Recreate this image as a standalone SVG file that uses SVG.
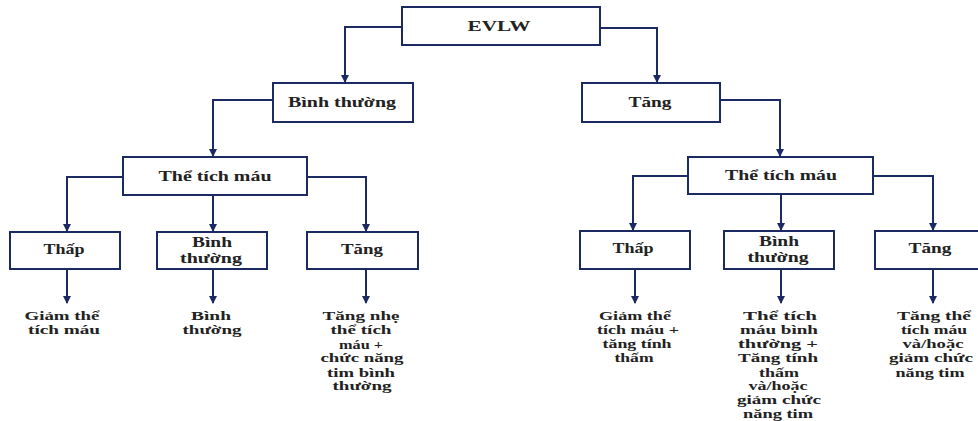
<svg xmlns="http://www.w3.org/2000/svg" width="978" height="421" viewBox="0 0 978 421">
<defs>
<marker id="ah" viewBox="0 0 8 8" refX="7" refY="4" markerWidth="4" markerHeight="4" orient="auto" markerUnits="strokeWidth">
<path d="M0,0 L8,4 L0,8 Z" fill="#1c2a63"/>
</marker>
<style>
.box{fill:#fff;stroke:#1c2a63;stroke-width:2}
.c{fill:none;stroke:#1c2a63;stroke-width:2;marker-end:url(#ah)}
text{font-family:"Liberation Serif","Times New Roman",serif;font-weight:bold;fill:#222;text-anchor:middle;font-size:14px}
.b{font-size:12.5px;font-weight:bold}
</style>
</defs>
<rect width="978" height="421" fill="#fff"/>
<g id="connectors">
<path class="c" d="M402,27 H345 V82"/>
<path class="c" d="M600,28 H657 V82"/>
<path class="c" d="M273,100 H213 V156"/>
<path class="c" d="M720,100 H780 V156"/>
<path class="c" d="M123,177 H67 V231"/>
<path class="c" d="M213,195 V231"/>
<path class="c" d="M307,177 H366 V231"/>
<path class="c" d="M688,176 H633 V230"/>
<path class="c" d="M781,194 V230"/>
<path class="c" d="M873,176 H933 V230"/>
<path class="c" d="M67,269 V303"/>
<path class="c" d="M213,269 V303"/>
<path class="c" d="M366,269 V303"/>
<path class="c" d="M635,269 V303"/>
<path class="c" d="M781,269 V303"/>
<path class="c" d="M933,269 V303"/>
</g>
<g id="n-evlw"><rect class="box" x="402" y="7" width="198" height="38"/><text x="499" y="31" textLength="63" lengthAdjust="spacingAndGlyphs">EVLW</text></g>
<g id="n-binhthuong"><rect class="box" x="273" y="83" width="140" height="39"/><text x="342" y="107" textLength="108" lengthAdjust="spacingAndGlyphs">Bình thường</text></g>
<g id="n-tang"><rect class="box" x="582" y="83" width="138" height="39"/><text x="650" y="107" textLength="43" lengthAdjust="spacingAndGlyphs">Tăng</text></g>
<g id="n-ttm-left"><rect class="box" x="123" y="157" width="184" height="38"/><text x="215" y="181" textLength="113" lengthAdjust="spacingAndGlyphs">Thể tích máu</text></g>
<g id="n-ttm-right"><rect class="box" x="688" y="157" width="185" height="37"/><text x="781" y="180" textLength="112" lengthAdjust="spacingAndGlyphs">Thể tích máu</text></g>
<g id="n-thap-left"><rect class="box" x="10" y="232" width="110" height="37"/><text x="64" y="254" textLength="41" lengthAdjust="spacingAndGlyphs">Thấp</text></g>
<g id="n-bt-left"><rect class="box" x="157" y="232" width="110" height="37"/><text x="212" y="247" textLength="40" lengthAdjust="spacingAndGlyphs">Bình</text><text x="211" y="263" textLength="62" lengthAdjust="spacingAndGlyphs">thường</text></g>
<g id="n-tang-left"><rect class="box" x="307" y="232" width="111" height="37"/><text x="362" y="254" textLength="42" lengthAdjust="spacingAndGlyphs">Tăng</text></g>
<g id="n-thap-right"><rect class="box" x="580" y="231" width="110" height="38"/><text x="633" y="253" textLength="41" lengthAdjust="spacingAndGlyphs">Thấp</text></g>
<g id="n-bt-right"><rect class="box" x="724" y="231" width="110" height="38"/><text x="779" y="246" textLength="40" lengthAdjust="spacingAndGlyphs">Bình</text><text x="778" y="262" textLength="61" lengthAdjust="spacingAndGlyphs">thường</text></g>
<g id="n-tang-right"><rect class="box" x="875" y="231" width="115" height="38"/><text x="930" y="253" textLength="43" lengthAdjust="spacingAndGlyphs">Tăng</text></g>
<g id="r1">
<text class="b" x="62" y="320" textLength="75" lengthAdjust="spacingAndGlyphs">Giảm thể</text>
<text class="b" x="64" y="334" textLength="72" lengthAdjust="spacingAndGlyphs">tích máu</text>
</g>
<g id="r2">
<text class="b" x="211" y="320" textLength="40" lengthAdjust="spacingAndGlyphs">Bình</text>
<text class="b" x="212" y="334" textLength="59" lengthAdjust="spacingAndGlyphs">thường</text>
</g>
<g id="r3">
<text class="b" x="361" y="320" textLength="77" lengthAdjust="spacingAndGlyphs">Tăng nhẹ</text>
<text class="b" x="361" y="334" textLength="61" lengthAdjust="spacingAndGlyphs">thể tích</text>
<text class="b" x="361" y="349" textLength="44" lengthAdjust="spacingAndGlyphs">máu +</text>
<text class="b" x="362" y="362" textLength="83" lengthAdjust="spacingAndGlyphs">chức năng</text>
<text class="b" x="361" y="377" textLength="68" lengthAdjust="spacingAndGlyphs">tim bình</text>
<text class="b" x="362" y="390" textLength="59" lengthAdjust="spacingAndGlyphs">thường</text>
</g>
<g id="r4">
<text class="b" x="635" y="320" textLength="72" lengthAdjust="spacingAndGlyphs">Giảm thể</text>
<text class="b" x="638" y="334" textLength="82" lengthAdjust="spacingAndGlyphs">tích máu +</text>
<text class="b" x="637" y="348" textLength="69" lengthAdjust="spacingAndGlyphs">tăng tính</text>
<text class="b" x="634" y="362" textLength="39" lengthAdjust="spacingAndGlyphs">thấm</text>
</g>
<g id="r5">
<text class="b" x="780" y="320" textLength="74" lengthAdjust="spacingAndGlyphs">Thể tích</text>
<text class="b" x="779" y="334" textLength="78" lengthAdjust="spacingAndGlyphs">máu bình</text>
<text class="b" x="778" y="348" textLength="80" lengthAdjust="spacingAndGlyphs">thường +</text>
<text class="b" x="778" y="362" textLength="80" lengthAdjust="spacingAndGlyphs">Tăng tính</text>
<text class="b" x="779" y="377" textLength="40" lengthAdjust="spacingAndGlyphs">thấm</text>
<text class="b" x="778" y="390" textLength="59" lengthAdjust="spacingAndGlyphs">và/hoặc</text>
<text class="b" x="779" y="404" textLength="84" lengthAdjust="spacingAndGlyphs">giảm chức</text>
<text class="b" x="778" y="418" textLength="70" lengthAdjust="spacingAndGlyphs">năng tim</text>
</g>
<g id="r6">
<text class="b" x="934" y="320" textLength="74" lengthAdjust="spacingAndGlyphs">Tăng thể</text>
<text class="b" x="934" y="334" textLength="66" lengthAdjust="spacingAndGlyphs">tích máu</text>
<text class="b" x="933" y="348" textLength="61" lengthAdjust="spacingAndGlyphs">và/hoặc</text>
<text class="b" x="931" y="362" textLength="84" lengthAdjust="spacingAndGlyphs">giảm chức</text>
<text class="b" x="930" y="377" textLength="69" lengthAdjust="spacingAndGlyphs">năng tim</text>
</g>
</svg>
